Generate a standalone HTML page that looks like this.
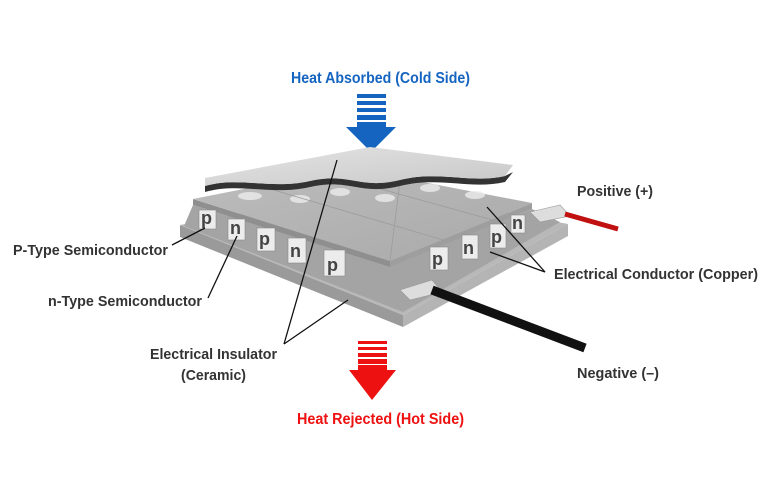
<!DOCTYPE html>
<html><head><meta charset="utf-8"><style>
html,body{margin:0;padding:0;background:#fff;}
svg{display:block;}
text{font-family:"Liberation Sans",Arial,sans-serif;font-weight:bold;}
</style></head><body>
<svg width="770" height="500" viewBox="0 0 770 500" xmlns="http://www.w3.org/2000/svg">
<defs>
<linearGradient id="gtop" x1="0" y1="0" x2="1" y2="1">
<stop offset="0" stop-color="#e4e4e4"/><stop offset="1" stop-color="#c8c8c8"/></linearGradient>
<linearGradient id="gmid" x1="0" y1="0" x2="1" y2="1">
<stop offset="0" stop-color="#bdbdbd"/><stop offset="1" stop-color="#a9a9a9"/></linearGradient>
</defs>
<text x="291" y="83" font-size="15.5" fill="#1565c0" textLength="179" lengthAdjust="spacingAndGlyphs">Heat Absorbed (Cold Side)</text>
<g fill="#1565c0">
<rect x="357" y="94" width="29" height="4"/><rect x="357" y="101" width="29" height="4"/>
<rect x="357" y="108" width="29" height="4"/><rect x="357" y="115" width="29" height="5"/>
<rect x="357" y="122" width="29" height="6"/>
<polygon points="346,127 396,127 371,152"/>
</g>
<!-- bottom plate -->
<polygon points="180,225 180,237 403,327 403,315" fill="#9a9a9a"/>
<polygon points="403,315 403,327 568,236 568,224" fill="#b4b4b4"/>
<polygon points="180,225 375,188 568,224 403,315" fill="#b8b8b8"/>
<polygon points="193,205 390,267 532,209 560,222 403,312 184,226" fill="#a4a4a4"/>
<!-- leads -->
<polygon points="400,290 432,280 442,292 410,300" fill="#ddd" stroke="#999" stroke-width="0.6"/>
<line x1="432" y1="290" x2="585" y2="348" stroke="#111" stroke-width="9"/>
<polygon points="530,212 560,205 570,216 540,222" fill="#ddd" stroke="#999" stroke-width="0.6"/>
<line x1="565" y1="214" x2="618" y2="229" stroke="#c01010" stroke-width="5"/>
<!-- middle plate -->
<polygon points="193,199 193,205 390,267 390,261" fill="#8f8f8f"/>
<polygon points="390,261 390,267 532,209 532,203" fill="#9e9e9e"/>
<polygon points="193,199 350,168 532,203 390,261" fill="url(#gmid)"/>
<g fill="#ececec" opacity="0.8">
<ellipse cx="250" cy="196" rx="12" ry="4"/><ellipse cx="300" cy="199" rx="10" ry="4"/>
<ellipse cx="340" cy="192" rx="10" ry="4"/><ellipse cx="385" cy="198" rx="10" ry="4"/>
<ellipse cx="430" cy="188" rx="10" ry="4"/><ellipse cx="475" cy="195" rx="10" ry="4"/>
</g>
<g stroke="#9c9c9c" stroke-width="0.8">
<line x1="260" y1="186" x2="450" y2="242"/><line x1="330" y1="175" x2="500" y2="222"/>
<line x1="400" y1="181" x2="390" y2="261"/>
</g>
<!-- pellets -->
<g fill="#ececec" stroke="#8a8a8a" stroke-width="0.6">
<rect x="199" y="210" width="17" height="19"/>
<rect x="228" y="219" width="17" height="21"/>
<rect x="257" y="228" width="18" height="23"/>
<rect x="288" y="238" width="18" height="25"/>
<rect x="324" y="250" width="21" height="26"/>
<rect x="430" y="247" width="18" height="23"/>
<rect x="462" y="235" width="16" height="24"/>
<rect x="490" y="224" width="16" height="24"/>
<rect x="511" y="215" width="14" height="18"/>
</g>
<g fill="#444" font-size="18" font-family="Liberation Sans,sans-serif">
<text x="201" y="224">p</text><text x="230" y="234">n</text><text x="259" y="245">p</text>
<text x="290" y="257">n</text><text x="327" y="271">p</text><text x="432" y="265">p</text>
<text x="463" y="254">n</text><text x="491" y="243">p</text><text x="512" y="229">n</text>
</g>
<!-- top plate -->
<path d="M205,186 C240,176 270,190 310,181 C350,172 360,190 400,180 C440,170 470,184 505,176 L513,172 L505,182 C470,190 440,176 400,186 C360,196 350,178 310,187 C270,196 240,182 205,192 Z" fill="#333"/>
<path d="M205,178 L370,147 L513,165 L505,176 C470,184 440,170 400,180 C360,190 350,172 310,181 C270,190 240,176 205,186 Z" fill="url(#gtop)"/>
<g stroke="#111" stroke-width="1.3" fill="none">
<line x1="172" y1="245" x2="205" y2="228"/>
<line x1="208" y1="298" x2="237" y2="236"/>
<line x1="284" y1="344" x2="337" y2="160"/>
<line x1="284" y1="344" x2="348" y2="300"/>
<line x1="545" y1="272" x2="487" y2="207"/>
<line x1="545" y1="272" x2="490" y2="252"/>
</g>
<g fill="#333">
<text x="13" y="255" font-size="15" textLength="155" lengthAdjust="spacingAndGlyphs">P-Type Semiconductor</text>
<text x="48" y="306" font-size="15" textLength="154" lengthAdjust="spacingAndGlyphs">n-Type Semiconductor</text>
<text x="150" y="359" font-size="15" textLength="127" lengthAdjust="spacingAndGlyphs">Electrical Insulator</text>
<text x="181" y="380" font-size="15" textLength="65" lengthAdjust="spacingAndGlyphs">(Ceramic)</text>
<text x="577" y="196" font-size="15" textLength="76" lengthAdjust="spacingAndGlyphs">Positive (+)</text>
<text x="554" y="279" font-size="15" textLength="204" lengthAdjust="spacingAndGlyphs">Electrical Conductor (Copper)</text>
<text x="577" y="378" font-size="15" textLength="82" lengthAdjust="spacingAndGlyphs">Negative (–)</text>
</g>
<g fill="#ee1111">
<rect x="358" y="341" width="29" height="3"/><rect x="358" y="347" width="29" height="3"/>
<rect x="358" y="353" width="29" height="4"/><rect x="358" y="359" width="29" height="5"/>
<rect x="358" y="365" width="29" height="6"/>
<polygon points="349,370 396,370 372,400"/>
</g>
<text x="297" y="424" font-size="15.5" fill="#ee1111" textLength="167" lengthAdjust="spacingAndGlyphs">Heat Rejected (Hot Side)</text>
</svg>
</body></html>
